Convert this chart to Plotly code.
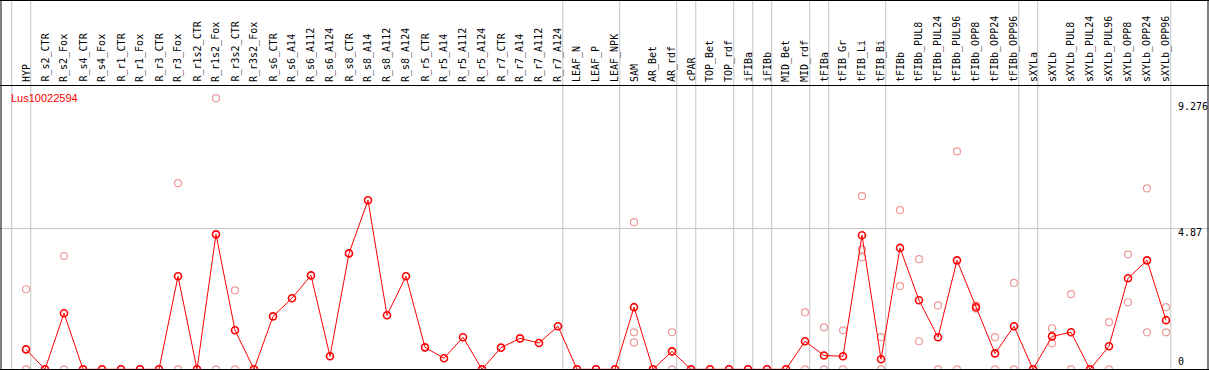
import plotly.graph_objects as go

categories = ["HYP", "R_s2_CTR", "R_s2_Fox", "R_s4_CTR", "R_s4_Fox", "R_r1_CTR", "R_r1_Fox",
              "R_r3_CTR", "R_r3_Fox", "R_r1s2_CTR", "R_r1s2_Fox", "R_r3s2_CTR", "R_r3s2_Fox",
              "R_s6_CTR", "R_s6_A14", "R_s6_A112", "R_s6_A124", "R_s8_CTR", "R_s8_A14",
              "R_s8_A112", "R_s8_A124", "R_r5_CTR", "R_r5_A14", "R_r5_A112", "R_r5_A124",
              "R_r7_CTR", "R_r7_A14", "R_r7_A112", "R_r7_A124", "LEAF_N", "LEAF_P", "LEAF_NPK",
              "SAM", "AR_Bet", "AR_rdf", "cPAR", "TOP_Bet", "TOP_rdf", "iFIBa", "iFIBb",
              "MID_Bet", "MID_rdf", "tFIBa", "tFIB_Gr", "tFIB_Li", "tFIB_Bi", "tFIBb",
              "tFIBb_PUL8", "tFIBb_PUL24", "tFIBb_PUL96", "tFIBb_OPP8", "tFIBb_OPP24",
              "tFIBb_OPP96", "sXYLa", "sXYLb", "sXYLb_PUL8", "sXYLb_PUL24", "sXYLb_PUL96",
              "sXYLb_OPP8", "sXYLb_OPP24", "sXYLb_OPP96"]

mean_values = [0.69, 0, 1.94, 0, 0, 0, 0, 0, 3.22, 0, 4.67, 1.35, 0,
               1.83, 2.46, 3.25, 0.45, 4.01, 5.85, 1.87, 3.22, 0.76, 0.38, 1.11, 0,
               0.75, 1.07, 0.91, 1.49, 0, 0, 0,
               2.15, 0, 0.62, 0, 0, 0, 0, 0, 0, 0.97, 0.48, 0.45, 4.64, 0.35, 4.20,
               2.39, 1.11, 3.77, 2.15, 0.55, 1.49, 0, 1.14, 1.28, 0, 0.80, 3.15, 3.77, 1.70]

N = None
rep_a = [2.77, 0, 3.92, 0, 0, 0, 0, 0, 6.44, 0, 9.38, 2.73, 0,
         N, N, N, N, N, N, N, N, N, N, N, 0,
         N, N, N, N, 0, 0, 0,
         5.09, 0, 1.28, 0, 0, 0, 0, 0, 0, 1.97, 1.45, 1.35, 5.99, 1.11, 5.51,
         3.81, 2.21, 7.54, 2.21, 1.11, 2.99, 0, 1.42, 2.60, 0, 1.63, 3.98, 6.26, 2.15]
rep_b = [0, N, 0, N, N, N, N, N, 0, N, 0, 0, N,
         N, N, N, N, N, N, N, N, N, N, N, N,
         N, N, N, N, N, N, N,
         1.28, N, 0, N, N, N, N, N, N, 0, 0, 0, 4.15, 0, 2.88,
         0.97, 0, 0, 2.10, 0, 0, N, 0.90, 0, N, 0, 2.32, 1.28, 1.28]
rep_c = [N] * 32 + [0.93] + [N] * 11 + [3.88] + [N] * 16

gene_label = "Lus10022594"
ytick_values = [9.276, 4.87, 0]
ytick_labels = ["9.276", "4.87", "0"]
group_ends = [-1, 0, 28, 31, 34, 35, 37, 38, 39, 41, 42, 45, 52, 53, 60]

W, H = 1209, 370
x0_px, x_step = 26.0, 19.0
y0_px, y_scale = 369.3, 28.9

xmin = -x0_px / x_step
xmax = xmin + W / x_step
ymax = y0_px / y_scale
ymin = ymax - H / y_scale

def py(p):  # pixel-from-top -> paper y
    return 1 - p / H

def px(p):
    return p / W

idx = list(range(len(categories)))
fig = go.Figure()

pink = "#ef9a9a"
for reps in (rep_a, rep_b, rep_c):
    fig.add_trace(go.Scatter(x=idx, y=reps, mode="markers", cliponaxis=False,
                             marker=dict(symbol="circle-open", size=7, color=pink,
                                         line=dict(width=1.2, color=pink)),
                             hoverinfo="skip", showlegend=False))

fig.add_trace(go.Scatter(x=idx, y=mean_values, mode="lines+markers", cliponaxis=False,
                         line=dict(color="#ff0000", width=1),
                         marker=dict(symbol="circle-open", size=7, color="#ff0000",
                                     line=dict(width=1.6, color="#ff0000")),
                         showlegend=False))

shapes = []
grey = "#c4c4c4"
for g in group_ends:
    shapes.append(dict(type="line", xref="x", yref="paper", x0=g + 0.25, x1=g + 0.25,
                       y0=0, y1=1, line=dict(color=grey, width=1), layer="below"))
shapes.append(dict(type="line", xref="paper", yref="y", x0=0, x1=1, y0=ytick_values[1],
                   y1=ytick_values[1], line=dict(color=grey, width=1), layer="below"))
# frame
blk = dict(color="black", width=1)
shapes += [
    dict(type="line", xref="paper", yref="paper", x0=px(1), x1=px(1), y0=0, y1=1, line=blk),
    dict(type="line", xref="paper", yref="paper", x0=px(1208), x1=px(1208), y0=0, y1=1, line=blk),
    dict(type="line", xref="paper", yref="paper", x0=0, x1=1, y0=py(0.5), y1=py(0.5), line=blk),
    dict(type="line", xref="paper", yref="paper", x0=0, x1=1, y0=py(85.5), y1=py(85.5), line=blk),
    dict(type="line", xref="paper", yref="paper", x0=0, x1=1, y0=py(369.5), y1=py(369.5), line=blk),
]

mono = "DejaVu Sans Mono"
ann = []
for i, c in enumerate(categories):
    ann.append(dict(x=i, xref="x", y=py(83), yref="paper", text=c, showarrow=False,
                    textangle=-90, xanchor="center", yanchor="bottom", borderpad=0,
                    font=dict(family=mono, size=10, color="black")))
ann.append(dict(x=px(10), xref="paper", y=py(97.7), yref="paper", text=gene_label,
                showarrow=False, xanchor="left", yanchor="middle", borderpad=0,
                font=dict(family="Liberation Sans, Arial", size=11, color="#ff0000")))
for v, t, c in zip(ytick_values, ytick_labels, [107, 232.7, 361.7]):
    ann.append(dict(x=px(1177), xref="paper", y=py(c), yref="paper", text=t,
                    showarrow=False, xanchor="left", yanchor="middle", borderpad=0,
                    font=dict(family=mono, size=10, color="black")))

fig.update_layout(
    width=W, height=H, margin=dict(l=0, r=0, t=0, b=0, pad=0),
    paper_bgcolor="white", plot_bgcolor="white",
    xaxis=dict(range=[xmin, xmax], visible=False, fixedrange=True),
    yaxis=dict(range=[ymin, ymax], visible=False, fixedrange=True),
    shapes=shapes, annotations=ann, showlegend=False,
)

fig.write_html("out.html", config={"displayModeBar": False},
               post_script="document.body.style.margin='0';document.body.style.overflow='hidden';")
